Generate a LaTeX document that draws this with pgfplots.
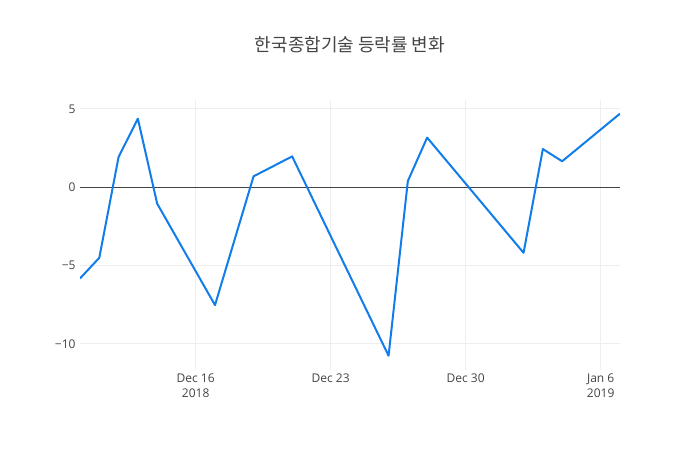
\documentclass[border=0pt]{standalone}
\usepackage{fontspec}
\setmainfont{Open Sans}
\newfontfamily\kr{Noto Sans CJK KR}
\usepackage{pgfplots}
\pgfplotsset{compat=1.18}
\definecolor{linecol}{RGB}{17,125,234}
\definecolor{ticktext}{HTML}{444444}
\definecolor{gridcol}{HTML}{EEEEEE}

% x = days after Dec 10 2018
\pgfplotstableread{
day value
0   -5.82
1   -4.50
2    1.93
3    4.38
4   -1.04
7   -7.52
9    0.70
11   1.97
16 -10.75
17   0.40
18   3.17
23  -4.18
24   2.44
25   1.66
28   4.70
}\ratedata

\begin{document}
\begin{tikzpicture}
\path (0,0) rectangle (700bp,450bp);
\node[font=\kr\fontsize{18bp}{21bp}\selectfont, text=ticktext] at (350bp,405bp) {한국종합기술 등락률 변화};
\begin{axis}[
  at={(80bp,80bp)}, anchor=south west,
  scale only axis,
  width=540bp, height=270bp,
  xmin=0, xmax=28,
  ymin=-11.66, ymax=5.57,
  axis line style={draw=none},
  major tick length=0pt,
  xtick={6,13,20,27},
  xticklabels={Dec 16\\2018, Dec 23, Dec 30, Jan 6\\2019},
  ytick={-10,-5,0,5},
  yticklabels={−10,−5,0,5},
  xmajorgrids, ymajorgrids,
  major grid style={draw=gridcol, line width=1bp},
  tick label style={font=\fontsize{12bp}{15bp}\selectfont, text=ticktext},
  xticklabel style={align=center},
  yticklabel style={xshift=-1bp},
]
\addplot[draw=ticktext, line width=1bp, forget plot] coordinates {(0,0) (28,0)};
\addplot[draw=linecol, line width=2bp, line join=round] table[x=day, y=value] {\ratedata};
\end{axis}
\end{tikzpicture}
\end{document}
